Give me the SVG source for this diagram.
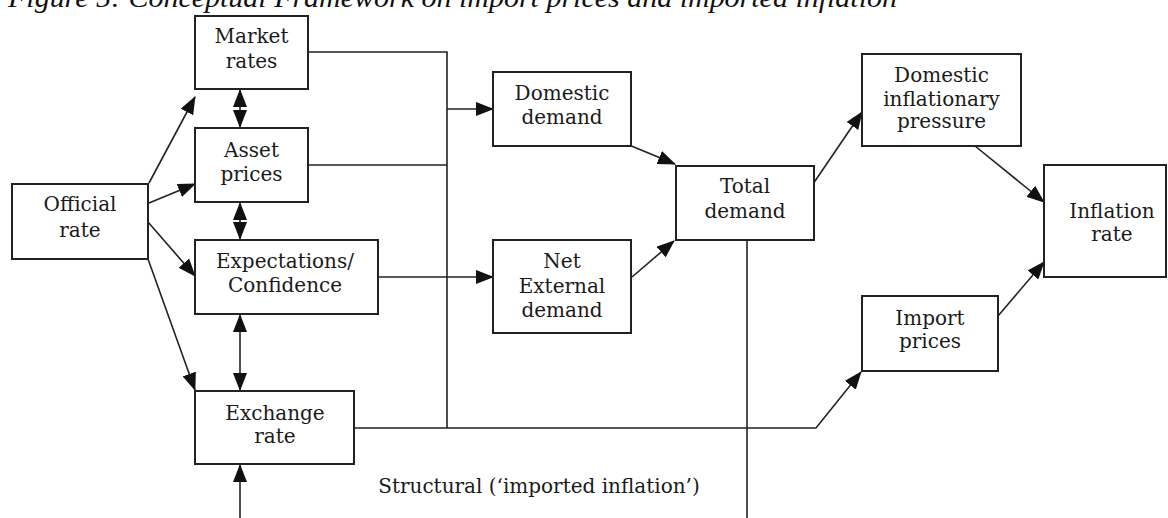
<svg xmlns="http://www.w3.org/2000/svg" width="1168" height="518" viewBox="0 0 1168 518">
<defs>
<marker id="ah" markerUnits="userSpaceOnUse" markerWidth="18" markerHeight="14" viewBox="0 0 18 14" refX="17" refY="7" orient="auto-start-reverse">
<path d="M0,0 L18,7 L0,14 Z" fill="#111"/>
</marker>
<style>
.box{fill:#fff;stroke:#222;stroke-width:2}
.t{font-family:"DejaVu Serif",serif;font-size:20px;fill:#1a1a1a;text-anchor:middle}
.c{fill:none;stroke:#222;stroke-width:1.6}
.title{font-family:"Liberation Serif",serif;font-style:italic;font-size:27px;fill:#111}
</style>
</defs>
<rect width="1168" height="518" fill="#fff"/>
<text class="title" x="8" y="7" textLength="889" lengthAdjust="spacingAndGlyphs">Figure 5: Conceptual Framework on import prices and imported inflation</text>

<g id="connectors">
<line class="c" x1="149" y1="183" x2="195" y2="97" marker-end="url(#ah)"/>
<line class="c" x1="149" y1="203" x2="195" y2="184" marker-end="url(#ah)"/>
<line class="c" x1="148" y1="222" x2="195" y2="276" marker-end="url(#ah)"/>
<line class="c" x1="148" y1="259" x2="195" y2="390" marker-end="url(#ah)"/>
<line class="c" x1="240" y1="90" x2="240" y2="127" marker-start="url(#ah)" marker-end="url(#ah)"/>
<line class="c" x1="240" y1="203" x2="240" y2="239" marker-start="url(#ah)" marker-end="url(#ah)"/>
<line class="c" x1="240" y1="315" x2="240" y2="390" marker-start="url(#ah)" marker-end="url(#ah)"/>
<line class="c" x1="240" y1="518" x2="240" y2="465" marker-end="url(#ah)"/>
<polyline class="c" points="308,52 447,52 447,428"/>
<line class="c" x1="308" y1="165" x2="447" y2="165"/>
<line class="c" x1="447" y1="109" x2="493" y2="109" marker-end="url(#ah)"/>
<line class="c" x1="378" y1="277" x2="493" y2="277" marker-end="url(#ah)"/>
<polyline class="c" points="354,428 816,428 861,372" marker-end="url(#ah)"/>
<line class="c" x1="629" y1="145" x2="675" y2="164" marker-end="url(#ah)"/>
<line class="c" x1="632" y1="277" x2="674" y2="241" marker-end="url(#ah)"/>
<line class="c" x1="747" y1="240" x2="747" y2="518"/>
<line class="c" x1="813" y1="184" x2="862" y2="112" marker-end="url(#ah)"/>
<line class="c" x1="975" y1="146" x2="1044" y2="202" marker-end="url(#ah)"/>
<line class="c" x1="998" y1="316" x2="1044" y2="262" marker-end="url(#ah)"/>
</g>

<g id="official-rate"><rect class="box" x="12" y="184" width="136" height="75"/><text class="t" x="80" y="211">Official</text><text class="t" x="80" y="237">rate</text></g>
<g id="market-rates"><rect class="box" x="195" y="16" width="113" height="73"/><text class="t" x="251.5" y="43">Market</text><text class="t" x="251.5" y="68">rates</text></g>
<g id="asset-prices"><rect class="box" x="195" y="128" width="113" height="74"/><text class="t" x="251.5" y="157">Asset</text><text class="t" x="251.5" y="181">prices</text></g>
<g id="expectations"><rect class="box" x="195" y="240" width="183" height="74"/><text class="t" x="285" y="268">Expectations/</text><text class="t" x="285" y="292">Confidence</text></g>
<g id="exchange-rate"><rect class="box" x="195" y="391" width="159" height="73"/><text class="t" x="275" y="420">Exchange</text><text class="t" x="275" y="443">rate</text></g>
<g id="domestic-demand"><rect class="box" x="493" y="72" width="138" height="74"/><text class="t" x="562" y="100">Domestic</text><text class="t" x="562" y="124">demand</text></g>
<g id="net-external-demand"><rect class="box" x="493" y="240" width="138" height="93"/><text class="t" x="562" y="268">Net</text><text class="t" x="562" y="293">External</text><text class="t" x="562" y="317">demand</text></g>
<g id="total-demand"><rect class="box" x="676" y="166" width="138" height="74"/><text class="t" x="745" y="193">Total</text><text class="t" x="745" y="218">demand</text></g>
<g id="domestic-inflationary-pressure"><rect class="box" x="862" y="54" width="159" height="92"/><text class="t" x="941.5" y="82">Domestic</text><text class="t" x="941.5" y="106">inflationary</text><text class="t" x="941.5" y="128">pressure</text></g>
<g id="import-prices"><rect class="box" x="862" y="296" width="136" height="75"/><text class="t" x="930" y="325">Import</text><text class="t" x="930" y="348">prices</text></g>
<g id="inflation-rate"><rect class="box" x="1044" y="165" width="122" height="112"/><text class="t" x="1112" y="218">Inflation</text><text class="t" x="1112" y="241">rate</text></g>
<g id="structural-label"><text class="t" x="539" y="493">Structural (‘imported inflation’)</text></g>
</svg>
